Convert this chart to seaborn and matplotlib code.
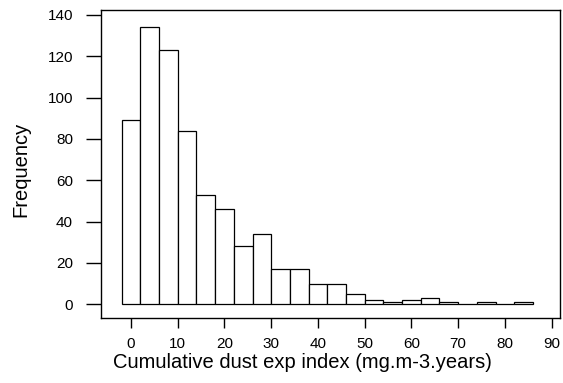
import numpy as np
import pandas as pd
import matplotlib
matplotlib.use('Agg')
import matplotlib.pyplot as plt
import seaborn as sns

# bin edges (width 4, starting at -2) and counts
bin_edges = list(range(-2, 87, 4))
counts = [89, 134, 123, 84, 53, 46, 28, 34, 17, 17, 10, 10, 5, 2, 1, 2, 3, 1, 0, 1, 0, 1]
x_ticks = [0, 10, 20, 30, 40, 50, 60, 70, 80, 90]
y_ticks = [0, 20, 40, 60, 80, 100, 120, 140]

centers = [(a + b) / 2 for a, b in zip(bin_edges[:-1], bin_edges[1:])]
df = pd.DataFrame({'value': centers, 'count': counts})

sns.set_style('white')
plt.rcParams['font.family'] = ['Liberation Sans', 'DejaVu Sans']
plt.rcParams['text.color'] = 'black'
plt.rcParams['axes.labelcolor'] = 'black'

fig = plt.figure(figsize=(5.63, 3.83), dpi=100)
ax = fig.add_axes([100.7 / 563, 1 - 318.3 / 383, (559.5 - 100.7) / 563, (318.3 - 9.5) / 383])

sns.histplot(data=df, x='value', weights='count', bins=bin_edges, stat='count',
             color='white', edgecolor='black', linewidth=0.9, alpha=1, ax=ax)

ax.set_xlim(-6.48, 91.68)
ax.set_ylim(-6.77, 142.6)
ax.set_xticks(x_ticks)
ax.set_yticks(y_ticks)
for s in ax.spines.values():
    s.set_visible(True)
    s.set_color('black')
    s.set_linewidth(1.0)
ax.tick_params(axis='x', direction='out', length=7.5, width=1, pad=6, labelsize=11, colors='black', bottom=True)
ax.tick_params(axis='y', direction='out', length=11, width=1, pad=9, labelsize=11, colors='black', left=True)
ax.set_xlabel('Cumulative dust exp index (mg.m-3.years)', fontsize=14.5, labelpad=1.5, color='black')
ax.set_ylabel('Frequency', fontsize=14.5, labelpad=12, color='black')
ax.xaxis.label.set_x(0.44)
ax.yaxis.label.set_y(0.483)
ax.grid(False)

fig.savefig('out.png', dpi=100)
